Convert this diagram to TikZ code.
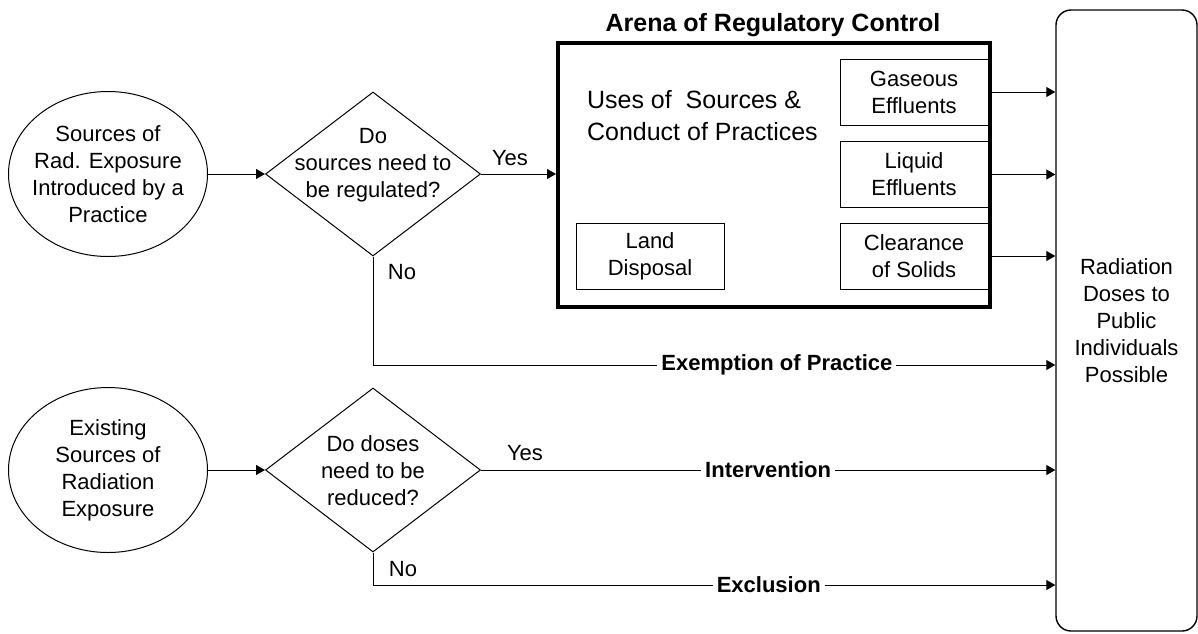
\documentclass[tikz,border=0pt]{standalone}
\usepackage{fontspec}
\setmainfont{Liberation Sans}
\usetikzlibrary{shapes.geometric,arrows.meta,calc}

\begin{document}
\begin{tikzpicture}[x=0.5pt,y=-0.5pt,
    every node/.style={font=\fontsize{11}{13.5}\selectfont},
    src/.style={ellipse,draw,line width=0.5pt,minimum width=99.5pt,minimum height=82.5pt,inner sep=-4pt,align=center},
    question/.style={diamond,draw,line width=0.5pt,minimum width=107.5pt,minimum height=82pt,inner sep=0pt},
    effluent/.style={rectangle,draw,line width=0.5pt,minimum width=74pt,minimum height=33pt,inner sep=0pt,align=center},
    flow/.style={line width=0.5pt,-{Triangle[length=4.5pt,width=5pt]}},
    route/.style={font=\fontsize{11}{13.5}\selectfont\bfseries,fill=white,inner xsep=2pt,inner ysep=1pt}]
    \useasboundingbox (0,0) rectangle (1198,633);

    % Practice branch
    \node[src] (src1) at (108,174) {Sources of\\Rad. Exposure\\Introduced by a\\Practice};
    \node[question] (q1) at (373,174) {};
    \node[align=center] (q1txt) at (373,165) {Do\\sources need to\\be regulated?};

    % Arena of regulatory control
    \node[draw,line width=2pt,minimum width=216pt,minimum height=132pt] (arena) at (774,175) {};
    \node[font=\fontsize{12.5}{15}\selectfont\bfseries] (arenatitle) at (773,25) {Arena of Regulatory Control};
    \node[font=\fontsize{12.5}{16}\selectfont,align=left,anchor=west] (uses) at (580,116) {Uses of\ \ Sources \&\\Conduct of Practices};
    \node[effluent] (gas) at (914,92) {Gaseous\\Effluents};
    \node[effluent] (liquid) at (914,174.5) {Liquid\\Effluents};
    \node[effluent] (clear) at (914,256) {Clearance\\of Solids};
    \node[effluent] (land) at (650,256) {Land\\Disposal};

    % Doses box
    \node[draw,rounded corners=7.5pt,line width=0.7pt,minimum width=70.5pt,minimum height=310.5pt,align=center] (dose) at (1126.5,320.5) {Radiation\\Doses to\\Public\\Individuals\\Possible};

    % Existing sources branch
    \node[src] (src2) at (108,470) {Existing\\Sources of\\Radiation\\Exposure};
    \node[question] (q2) at (373,470) {};
    \node[align=center] (q2txt) at (373,471) {Do doses\\need to be\\reduced?};

    % Yes / No labels
    \node (yes1) at (510,158) {Yes};
    \node (no1) at (402,272) {No};
    \node (yes2) at (525,453) {Yes};
    \node (no2) at (403,569) {No};

    % Connectors
    \draw[flow] (src1) -- (q1);
    \draw[flow] (q1.east) -- (q1.east -| arena.west);
    \foreach \eff in {gas,liquid,clear}
        \draw[flow] (\eff.east -| arena.east) -- (\eff.east -| dose.west);
    \draw[flow] (q1.south) |- (dose.west |- 0,365) node[route,pos=0.796] {Exemption of Practice};
    \draw[flow] (src2) -- (q2);
    \draw[flow] (q2.east) -- (q2.east -| dose.west) node[route,midway] {Intervention};
    \draw[flow] (q2.south) |- (dose.west |- 0,585) node[route,pos=0.79] {Exclusion};
\end{tikzpicture}
\end{document}
